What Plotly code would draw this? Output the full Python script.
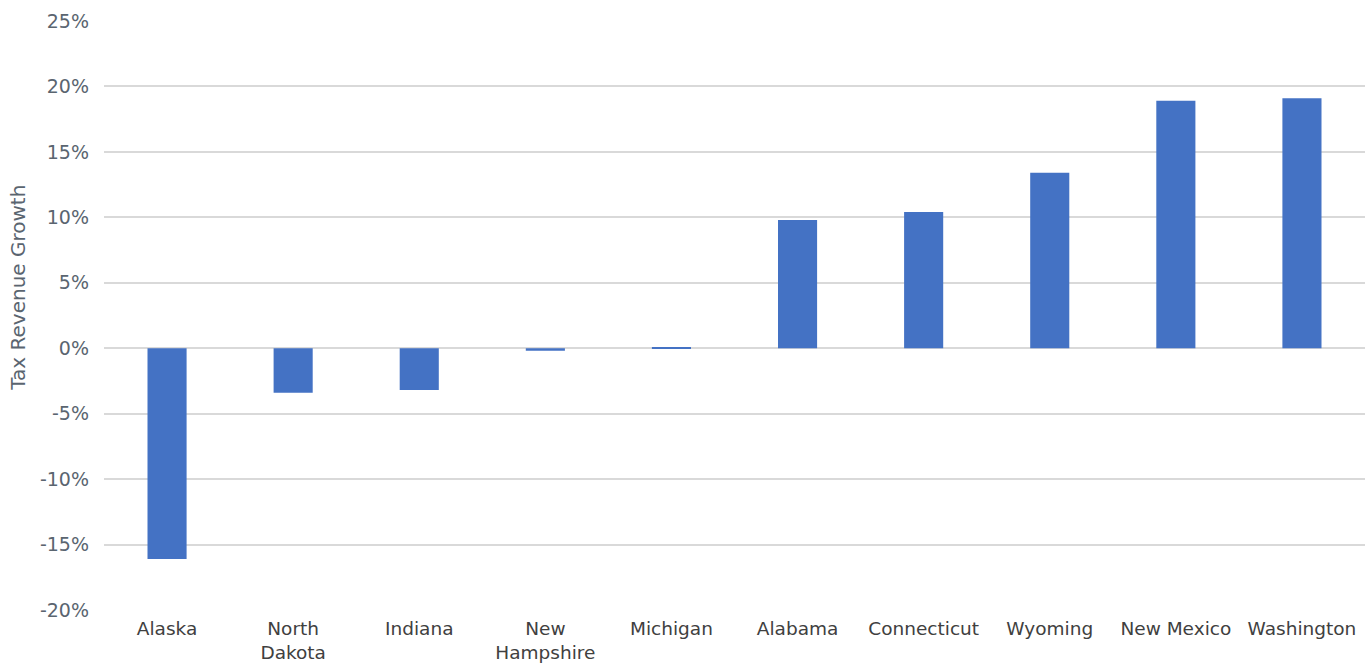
import plotly.graph_objects as go

# State tax revenue growth, sorted from lowest to highest
states = ["Alaska", "North<br>Dakota", "Indiana", "New<br>Hampshire", "Michigan",
          "Alabama", "Connecticut", "Wyoming", "New Mexico", "Washington"]
growth = [-0.161, -0.034, -0.032, -0.002, 0.001, 0.098, 0.104, 0.134, 0.189, 0.191]

tick_vals = [-0.20, -0.15, -0.10, -0.05, 0.0, 0.05, 0.10, 0.15, 0.20, 0.25]
tick_text = ["-20%", "-15%", "-10%", "-5%", "0%", "5%", "10%", "15%", "20%", "25%"]

FONT = "DejaVu Sans, Verdana, sans-serif"

fig = go.Figure(
    go.Bar(
        x=states,
        y=growth,
        marker=dict(color="#4472C4", line=dict(width=0)),
        width=0.31,
        hoverinfo="x+y",
    )
)

fig.update_layout(
    width=1366,
    height=664,
    margin=dict(l=104, r=1, t=21, b=54),
    paper_bgcolor="white",
    plot_bgcolor="white",
    showlegend=False,
    font=dict(family=FONT, color="#595959"),
    xaxis=dict(
        showgrid=False,
        showline=False,
        ticks="",
        tickfont=dict(size=18.5, color="#404040"),
        ticklabelstandoff=5,
        automargin=False,
        fixedrange=True,
    ),
    yaxis=dict(
        range=[-0.20, 0.25],
        tickvals=tick_vals,
        ticktext=tick_text,
        tickfont=dict(size=19, color="#5A6570"),
        showgrid=True,
        gridcolor="#D9D9D9",
        gridwidth=1.5,
        zeroline=True,
        zerolinecolor="#D9D9D9",
        zerolinewidth=1.5,
        showline=False,
        ticks="",
        ticklabelstandoff=14,
        automargin=False,
        fixedrange=True,
    ),
    annotations=[
        dict(
            text="Tax Revenue Growth",
            textangle=-90,
            xref="paper", yref="paper",
            x=0, y=0.547,
            xanchor="center", yanchor="middle",
            xshift=-86,
            showarrow=False,
            font=dict(family=FONT, size=20, color="#5A6570"),
        )
    ],
)

fig.write_html("out.html")
